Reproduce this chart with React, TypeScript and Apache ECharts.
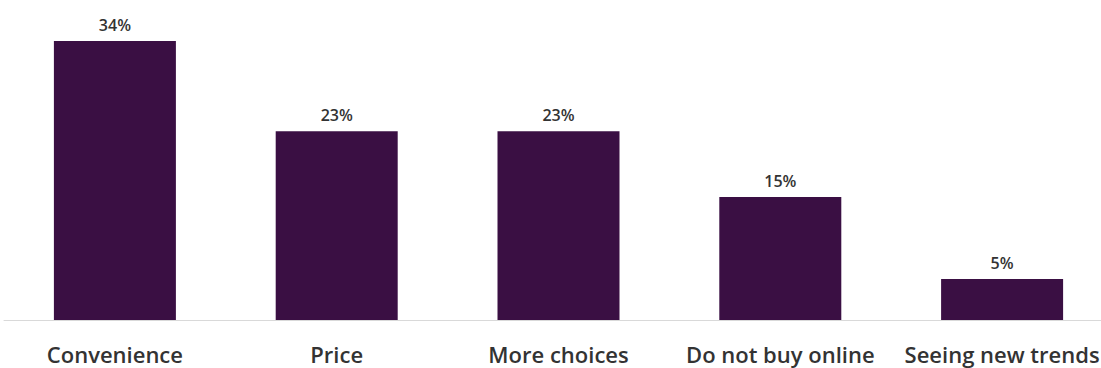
import React, { useEffect, useRef } from "react";
import * as echarts from "echarts";

const categories = ["Convenience", "Price", "More choices", "Do not buy online", "Seeing new trends"];
const values = [34, 23, 23, 15, 5];

export default function App() {
  const ref = useRef<HTMLDivElement>(null);
  useEffect(() => {
    if (!ref.current) return;
    const chart = echarts.init(ref.current, undefined, { renderer: "svg" });
    chart.setOption({
      animation: false,
      grid: { left: 4, right: 0, top: 41, height: 279, containLabel: false },
      xAxis: {
        type: "category",
        data: categories,
        axisLine: { show: true, lineStyle: { color: "#d9d9d9", width: 1 } },
        axisTick: { show: false },
        axisLabel: {
          color: "#333333",
          fontFamily: "Open Sans",
          fontWeight: 600,
          fontSize: 22,
          margin: 23,
          interval: 0,
        },
      },
      yAxis: {
        type: "value",
        min: 0,
        max: 34,
        show: false,
        splitLine: { show: false },
      },
      series: [
        {
          type: "bar",
          data: values,
          barWidth: 122,
          itemStyle: { color: "#3a0f43" },
          label: {
            show: true,
            position: "top",
            distance: 8,
            formatter: "{c}%",
            color: "#333333",
            fontFamily: "Open Sans",
            fontWeight: 600,
            fontSize: 16,
          },
        },
      ],
    });
    return () => chart.dispose();
  }, []);
  return (
    <div
      style={{ position: "fixed", left: 0, top: 0, width: 1101, height: 368, overflow: "hidden", background: "#ffffff" }}
    >
      <div ref={ref} style={{ width: 1113, height: 368 }} />
    </div>
  );
}
